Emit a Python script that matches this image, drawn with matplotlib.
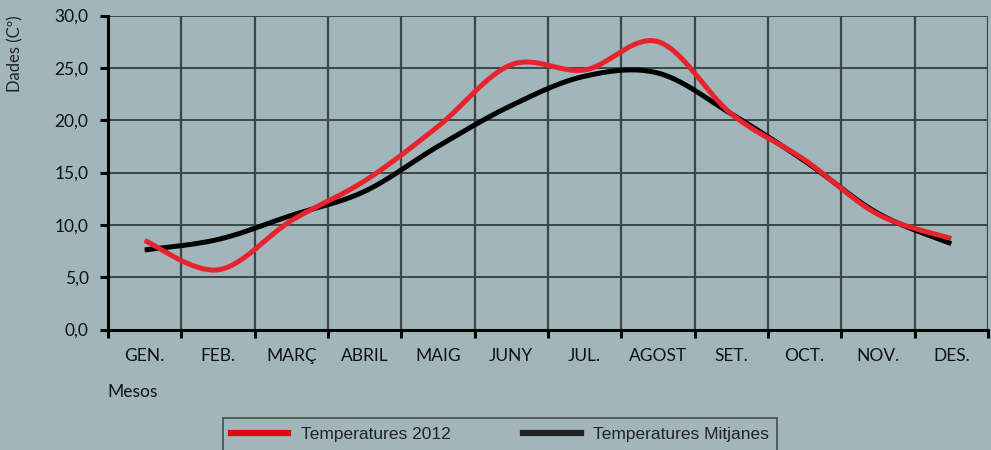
import numpy as np
import matplotlib
matplotlib.use("Agg")
import matplotlib.pyplot as plt
from matplotlib.lines import Line2D

months = ["GEN.", "FEB.", "MARÇ", "ABRIL", "MAIG", "JUNY", "JUL.", "AGOST", "SET.", "OCT.", "NOV.", "DES."]
temps_2012 = [8.5, 5.7, 10.4, 14.2, 19.4, 25.3, 24.8, 27.5, 20.6, 16.2, 11.0, 8.7]
temps_mitjanes = [7.6, 8.6, 10.9, 13.2, 17.5, 21.4, 24.2, 24.5, 20.6, 16.1, 11.1, 8.2]
yticks = [0, 5, 10, 15, 20, 25, 30]
ytick_labels = ["0,0", "5,0", "10,0", "15,0", "20,0", "25,0", "30,0"]

BG = "#a0b6ba"
RED = "#e8232d"
GRID = "#3c4646"


def smooth(y, n=40):
    """Excel-like smoothed line (Catmull-Rom / cubic Bezier) in data space."""
    y = np.asarray(y, float)
    x = np.arange(len(y), dtype=float)
    pts = np.column_stack([x, y])
    ext = np.vstack([pts[0], pts, pts[-1]])
    out = []
    t = np.linspace(0, 1, n)[:, None]
    for i in range(len(pts) - 1):
        p0, p1, p2, p3 = ext[i], ext[i + 1], ext[i + 2], ext[i + 3]
        c1 = p1 + (p2 - p0) / 6.0
        c2 = p2 - (p3 - p1) / 6.0
        seg = ((1 - t) ** 3) * p1 + 3 * ((1 - t) ** 2) * t * c1 + 3 * (1 - t) * t ** 2 * c2 + t ** 3 * p2
        out.append(seg if i == 0 else seg[1:])
    out = np.vstack(out)
    return out[:, 0], out[:, 1]


fig = plt.figure(figsize=(9.91, 4.5), dpi=100, facecolor=BG)
ax = fig.add_axes([108 / 991, (450 - 329.5) / 450, (988 - 108) / 991, (329.5 - 15.5) / 450])
ax.set_facecolor(BG)

x = np.arange(len(months))
ax.set_xlim(-0.5, len(months) - 0.5)
ax.set_ylim(0, 30)

# grid
for b in np.arange(0.5, len(months) - 0.5, 1.0):
    ax.axvline(b, color=GRID, lw=1.6, zorder=1)
for v in yticks[1:]:
    ax.axhline(v, color=GRID, lw=1.4, zorder=1)
ax.axvline(len(months) - 0.5, color=GRID, lw=1.6, zorder=1)

sx, sy = smooth(temps_mitjanes)
ax.plot(sx, sy, color="black", lw=3.6, solid_capstyle="butt", zorder=3)
rx, ry = smooth(temps_2012)
ax.plot(rx, ry, color=RED, lw=3.6, solid_capstyle="butt", zorder=4)

for s in ["top", "right"]:
    ax.spines[s].set_visible(False)
ax.spines["left"].set_linewidth(2.2)
ax.spines["bottom"].set_linewidth(2.2)

ax.set_yticks(yticks)
ax.set_yticklabels(ytick_labels, family="Lato", fontsize=12.5, color="#111111")
ax.tick_params(axis="y", length=6, width=2.2, pad=8, direction="out")

ax.set_xticks(x)
ax.set_xticklabels(months, family="Lato", fontsize=12.5, color="#111111")
ax.tick_params(axis="x", which="major", length=0, pad=13)
ax.set_xticks(np.arange(-0.5, len(months), 1.0), minor=True)
ax.tick_params(axis="x", which="minor", length=6, width=2.2, direction="out")

fig.text(15 / 991, (450 - 54) / 450, "Dades (Cº)", rotation=90, ha="center", va="center",
         family="Lato", fontsize=12, color="#222222")
fig.text(107 / 991, (450 - 392) / 450, "Mesos", ha="left", va="center",
         family="Lato", fontsize=12.5, color="#111111")

handles = [Line2D([], [], color="#e30613", lw=4.5), Line2D([], [], color="#222222", lw=4.5)]
leg = fig.legend(handles, ["Temperatures 2012", "Temperatures Mitjanes"], ncol=2,
                 loc="upper left", bbox_to_anchor=(222.5 / 991, (450 - 418) / 450),
                 frameon=True, fancybox=False, facecolor=BG, edgecolor="#333333",
                 prop={"family": "Liberation Sans", "size": 12.5},
                 handlelength=3.3, handletextpad=0.7, columnspacing=4.2,
                 borderpad=0.5, borderaxespad=0)
leg.get_frame().set_linewidth(1.2)
for t in leg.get_texts():
    t.set_color("#222222")

fig.savefig("out.png", dpi=100, facecolor=BG)
